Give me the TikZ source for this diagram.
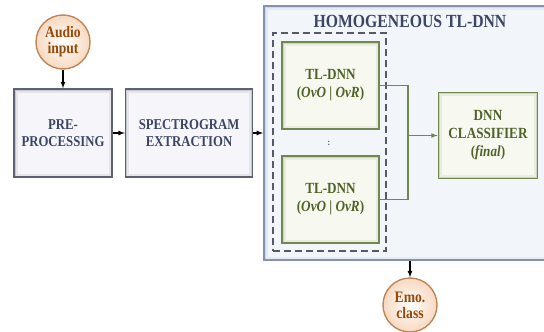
\documentclass[tikz,border=0pt]{standalone}
\usepackage{fontspec}
\setmainfont{Liberation Serif}[FakeStretch=0.85]
\usepackage{tikz}
\usetikzlibrary{arrows}
\usetikzlibrary{positioning}
\definecolor{boxline}{HTML}{5E6170}
\definecolor{boxfill}{HTML}{F5F5FA}
\definecolor{boxtext}{HTML}{3C4664}
\definecolor{grnline}{HTML}{71874F}
\definecolor{grnfill}{HTML}{F7F9F0}
\definecolor{grntext}{HTML}{4F6228}
\definecolor{circline}{HTML}{C08557}
\definecolor{circfill}{HTML}{F7D9C0}
\definecolor{circtext}{HTML}{984807}
\definecolor{homline}{HTML}{8591AE}
\definecolor{homfill}{HTML}{F2F5F9}
\definecolor{dashline}{HTML}{555A66}
\tikzset{
  glow/.style={path picture={
    \draw[#1,line width=7pt,opacity=.1] (path picture bounding box.south west) rectangle (path picture bounding box.north east);
    \draw[#1,line width=3pt,opacity=.22] (path picture bounding box.south west) rectangle (path picture bounding box.north east);}},
  block/.style={draw=boxline,line width=1.6pt,fill=boxfill,glow=boxline,text=boxtext,
    font=\bfseries\fontsize{15}{17}\selectfont,align=center,minimum height=88pt,inner sep=0pt},
  tlbox/.style={draw=grnline,line width=1.6pt,fill=grnfill,glow=grnline,text=grntext,
    font=\bfseries\fontsize{15.5}{18}\selectfont,align=center,minimum width=97pt,minimum height=87pt,inner sep=0pt},
  term/.style={circle,draw=circline,line width=1.4pt,inner color=white,outer color=circfill,text=circtext,
    font=\bfseries\fontsize{16}{16}\selectfont,align=center,minimum size=54pt,inner sep=0pt},
  flow/.style={-latex,line width=1.2pt,black},
  link/.style={grnline,line width=1.2pt}
}
\begin{document}
\begin{tikzpicture}[x=1pt,y=-1pt]
    \useasboundingbox (0,0) rectangle (544,332);
    \node [draw=homline,line width=1.8pt,fill=homfill,glow=homline,minimum width=288pt,minimum height=254pt] (hom) at (408,133) {};
    \node [text=boxtext,font=\bfseries\fontsize{18.5}{20}\selectfont] (title) at (410,21) {HOMOGENEOUS TL-DNN};
    \node [draw=dashline,dash pattern=on 7pt off 4pt,line width=1.8pt,minimum width=113pt,minimum height=218pt] (grp) at (329.5,142) {};
    \node [term] (audio) at (63,42) {Audio\\input};
    \node [block,minimum width=98pt] (pre) at (63,133) {PRE-\\PROCESSING};
    \node [block,minimum width=127pt] (spec) [right=12pt of pre] {SPECTROGRAM\\EXTRACTION};
    \node [tlbox] (tl1) at (330.5,85.5) {TL-DNN\\(\textit{OvO} | \textit{OvR})};
    \node [text=boxtext,font=\bfseries\fontsize{9}{9}\selectfont] (dots) at (329,143) {:};
    \node [tlbox] (tl2) at (330.5,199.5) {TL-DNN\\(\textit{OvO} | \textit{OvR})};
    \node [tlbox,minimum width=99pt,minimum height=86pt] (dnn) at (488,135.5) {DNN\\CLASSIFIER\\(\textit{final})};
    \node [term] (emo) at (410,305) {Emo.\\class};
    \coordinate (jn) at (408,135.5);
    \draw [flow] (audio) -- (pre);
    \draw [flow] (pre) -- (spec);
    \draw [flow] (spec) -- (spec -| hom.west);
    \draw [flow] (emo |- hom.south) -- (emo);
    \draw [link] (tl1) -| (jn) |- (tl2);
    \draw [link,-latex] (jn) -- (dnn);
\end{tikzpicture}
\end{document}
